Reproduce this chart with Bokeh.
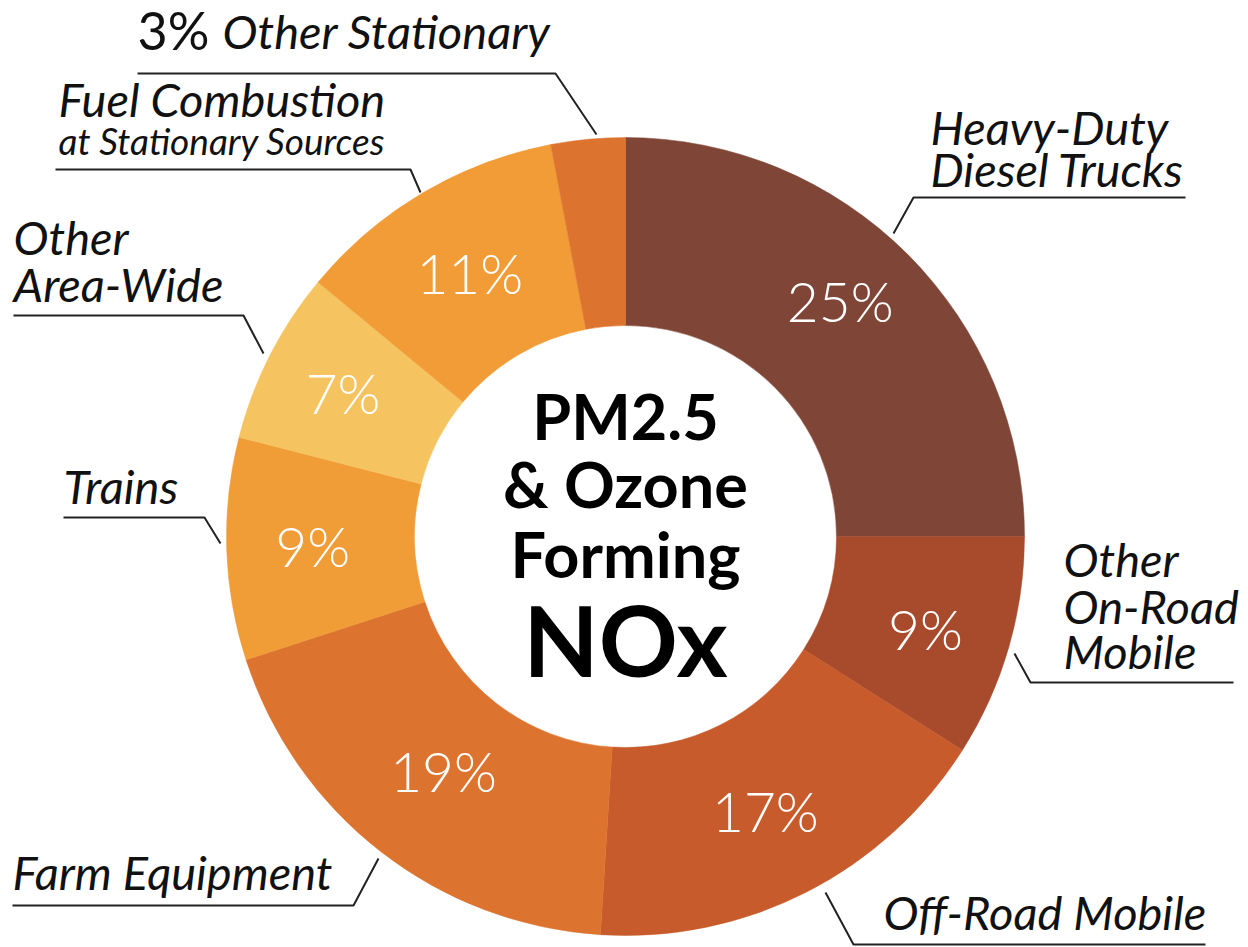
import math
from bokeh.plotting import figure
from bokeh.models import ColumnDataSource
from bokeh.core.properties import value
from bokeh.embed import file_html
from bokeh.resources import INLINE

# ---------------- data ----------------
categories = ["Heavy-Duty Diesel Trucks", "Other On-Road Mobile", "Off-Road Mobile",
              "Farm Equipment", "Trains", "Other Area-Wide",
              "Fuel Combustion at Stationary Sources", "Other Stationary"]
shares = [25, 9, 17, 19, 9, 7, 11, 3]
colors = ["#7f4637", "#a84b2c", "#c75b2b", "#dc7430", "#f09c37", "#f5c35f", "#f19c37", "#dc7430"]

center_lines = ["PM2.5", "& Ozone", "Forming", "NOx"]

# outside label lines (text) for each category
label_texts = [["Heavy-Duty", "Diesel Trucks"], ["Other", "On-Road", "Mobile"], ["Off-Road Mobile"],
               ["Farm Equipment"], ["Trains"], ["Other", "Area-Wide"],
               ["Fuel Combustion"], ["Other Stationary"]]
sub_label = "at Stationary Sources"

# ---------------- layout (screen pixels of the page) ----------------
W, H = 1248, 947
def Y(y):
    return H - y

# text baseline correction (rendered text sits lower than the set baseline)
def TY(y, fs):
    return Y(y - 0.35 * fs)

CX, CY = 625, Y(536)
R_IN, R_OUT = 211, 399
# per-slice radius / angle nudge (degrees) of the in-slice percentage labels
pct_r = [319, 314, 308, 297, 313, 317, 306, 310]
pct_nudge = [2.7, -1.0, 0.0, 0.0, 0.0, 0.0, 0.0, 0.0]

FS_LBL, FS_SUB, FS_3, FS_PCT, FS_C, FS_N = 47, 37, 52, 55, 63, 98

# label baseline positions (x, [baselines])
label_pos = [(930, [143, 185]), (1063, [575, 622, 667]), (883, [928]), (12, [888]),
             (63, [502]), (13, [253, 300]), (58, [115]), (222, [47])]
leaders = [
    [(1185, 197), (913, 197), (893, 233)],
    [(1233, 682), (1030, 682), (1014, 653)],
    [(1205, 944), (853, 944), (825, 892)],
    [(12, 905), (353, 905), (378, 858)],
    [(63, 517), (204, 517), (220, 543)],
    [(13, 315), (243, 315), (263, 353)],
    [(55, 169), (410, 169), (420, 192)],
    [(137, 73), (555, 73), (596, 134)],
]

# ---------------- wedges ----------------
total = float(sum(shares))
starts, ends, mids = [], [], []
c = 0.0
for s in shares:
    c0, c1 = c / total, (c + s) / total
    starts.append(math.pi / 2 - 2 * math.pi * c1)
    ends.append(math.pi / 2 - 2 * math.pi * c0)
    mids.append(math.pi / 2 - 2 * math.pi * (c0 + c1) / 2)
    c += s

src = ColumnDataSource(dict(x=[CX] * len(shares), y=[CY] * len(shares),
                            start=starts, end=ends, color=colors, cat=categories))

p = figure(width=W, height=H, x_range=(0, W), y_range=(0, H),
           output_backend="svg", toolbar_location=None, min_border=0,
           x_axis_type=None, y_axis_type=None)
p.grid.visible = False
p.outline_line_color = None
p.background_fill_color = "white"
p.border_fill_color = "white"

p.annular_wedge(x="x", y="y", inner_radius=R_IN, outer_radius=R_OUT,
                start_angle="start", end_angle="end", direction="anticlock",
                fill_color="color", line_color="color", line_width=0.5, source=src)

# percentage labels inside slices
px, py, pt = [], [], []
for s, m, r, dn in zip(shares, mids, pct_r, pct_nudge):
    if s >= 5:
        a = m + math.radians(dn)
        px.append(CX + r * math.cos(a))
        py.append(CY + r * math.sin(a))
        pt.append(f"{s}%")
p.text(x=px, y=py, text=pt, text_align="center", text_baseline="middle",
       text_color="white", text_font=value("Lato Light"), text_font_size=f"{FS_PCT}px")

# leader lines
p.multi_line(xs=[[a for a, b in L] for L in leaders], ys=[[Y(b) for a, b in L] for L in leaders],
             line_color="#222222", line_width=2)

# outside labels
lx, ly, lt = [], [], []
for lines, (x0, bases) in zip(label_texts, label_pos):
    for t, b in zip(lines, bases):
        lx.append(x0)
        ly.append(TY(b, FS_LBL))
        lt.append(t)
p.text(x=lx, y=ly, text=lt, text_align="left", text_baseline="alphabetic",
       text_color="#111111", text_font=value("Lato"), text_font_style="italic",
       text_font_size=f"{FS_LBL}px")
p.text(x=[58], y=[TY(153, FS_SUB)], text=[sub_label], text_align="left", text_baseline="alphabetic",
       text_color="#111111", text_font=value("Lato"), text_font_style="italic",
       text_font_size=f"{FS_SUB}px")
p.text(x=[137], y=[TY(48, FS_3)], text=[f"{shares[-1]}%"], text_align="left", text_baseline="alphabetic",
       text_color="#111111", text_font=value("Lato"), text_font_size=f"{FS_3}px")

# center title
p.text(x=[CX] * 3, y=[TY(437, FS_C), TY(505, FS_C), TY(575, FS_C)], text=center_lines[:3],
       text_align="center", text_baseline="alphabetic", text_color="black", text_font=value("Lato"),
       text_font_style="bold", text_font_size=f"{FS_C}px")
p.text(x=[CX], y=[TY(673, FS_N)], text=center_lines[3:], text_align="center",
       text_baseline="alphabetic", text_color="black", text_font=value("Lato"),
       text_font_style="bold", text_font_size=f"{FS_N}px")

open("out.html", "w").write(file_html(p, INLINE))
